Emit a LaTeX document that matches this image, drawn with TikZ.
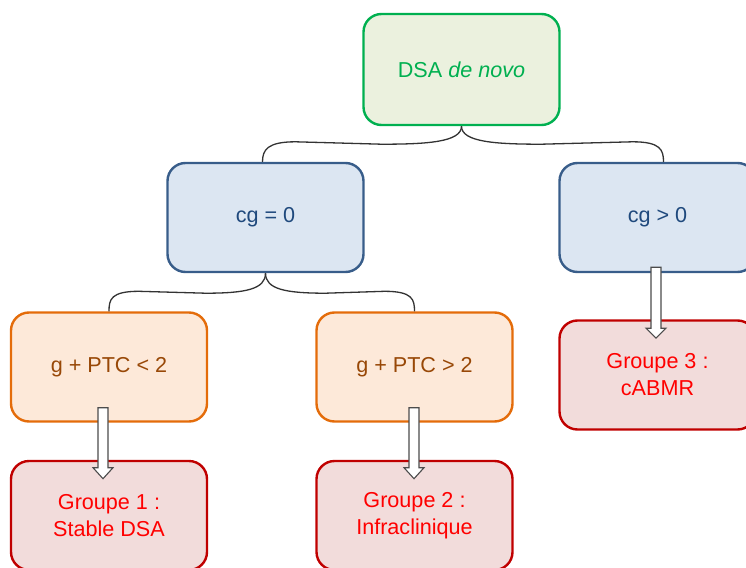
\documentclass[tikz,border=0pt]{standalone}
\usepackage{fontspec}
\setmainfont{Liberation Sans}
\usepackage{tikz}
\usetikzlibrary{positioning,calc}

\definecolor{rootline}{HTML}{00B050}
\definecolor{rootfill}{HTML}{EBF1DE}
\definecolor{cgline}{HTML}{385D8A}
\definecolor{cgfill}{HTML}{DCE6F2}
\definecolor{cgtext}{HTML}{1F497D}
\definecolor{ptcline}{HTML}{E46C0A}
\definecolor{ptcfill}{HTML}{FDE9D9}
\definecolor{ptctext}{HTML}{984807}
\definecolor{grpline}{HTML}{C00000}
\definecolor{grpfill}{HTML}{F2DCDB}
\definecolor{grptext}{HTML}{FF0000}

\begin{document}
\begin{tikzpicture}[
    x=1pt, y=1pt,
    font=\fontsize{21.6}{27}\selectfont,
    box/.style={draw, line width=2.4pt, rounded corners=18pt, align=center, minimum width=196pt, minimum height=109pt, inner sep=0pt},
    rootbox/.style={box, draw=rootline, fill=rootfill, text=rootline, minimum height=111pt},
    cgbox/.style={box, draw=cgline, fill=cgfill, text=cgtext},
    ptcbox/.style={box, draw=ptcline, fill=ptcfill, text=ptctext},
    grpbox/.style={box, draw=grpline, fill=grpfill, text=grptext},
    brace/.style={draw=black!80, line width=1.3pt},
    blockarr/.style={draw=black!70, fill=white, line width=1.1pt, line join=miter}
]
\useasboundingbox (0,0) rectangle (746,-567);

% Boxes
\node[rootbox] (root) at (461.5,-69.5) {DSA \textit{de novo}};
\node[cgbox] (cgzero) at (265.5,-217.5) {cg = 0};
\node[cgbox] (cgpos) at (657.5,-217.5) {cg > 0};
\node[ptcbox] (ptclow) at (109,-367) {g + PTC < 2};
\node[ptcbox] (ptchigh) at (414.5,-367) {g + PTC > 2};
\node[grpbox] (grpthree) at (657.5,-375) {Groupe 3 :\\cABMR};
\node[grpbox] (grpone) at (109,-515.5) {Groupe 1 :\\Stable DSA};
\node[grpbox] (grptwo) at (414.5,-515.5) {Groupe 2 :\\Infraclinique};

% Braces from the root
\draw[brace] (root.south) .. controls +(0,-16) and +(45,0) .. ++(-80,-18)
    -- ($(cgzero.north)+(30,20)$) .. controls +(-28,0) and +(0,12) .. ($(cgzero.north)+(-3,0)$);
\draw[brace] (root.south) .. controls +(0,-16) and +(-45,0) .. ++(80,-18)
    -- ($(cgpos.north)+(-25,20)$) .. controls +(28,0) and +(0,12) .. ($(cgpos.north)+(6,0)$);

% Braces from cg = 0
\draw[brace] (cgzero.south) .. controls +(0,-16) and +(40,0) .. ++(-60,-20)
    -- ($(ptclow.north)+(30,20)$) .. controls +(-28,0) and +(0,12) .. (ptclow.north);
\draw[brace] (cgzero.south) .. controls +(0,-16) and +(-40,0) .. ++(60,-20)
    -- ($(ptchigh.north)+(-30,20)$) .. controls +(28,0) and +(0,12) .. (ptchigh.north);

% Block arrows
\draw[blockarr] ($(ptclow.south)+(-11,15)$) -- ++(10,0) -- ++(0,-60) -- ++(5,0)
    -- ++(-10,-11) -- ++(-10,11) -- ++(5,0) -- cycle;
\draw[blockarr] ($(ptchigh.south)+(-5.5,15)$) -- ++(10,0) -- ++(0,-60) -- ++(5,0)
    -- ++(-10,-11) -- ++(-10,11) -- ++(5,0) -- cycle;
\draw[blockarr] ($(cgpos.south)+(-6.5,6)$) -- ++(10,0) -- ++(0,-61) -- ++(5,0)
    -- ++(-10,-10) -- ++(-10,10) -- ++(5,0) -- cycle;

\end{tikzpicture}
\end{document}
